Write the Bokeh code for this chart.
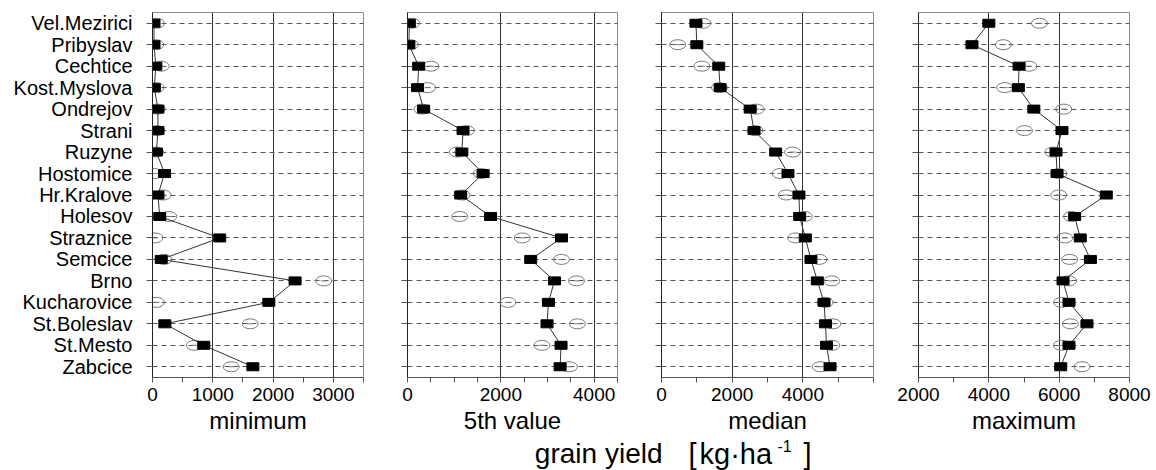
from bokeh.plotting import figure
from bokeh.layouts import row, column
from bokeh.models import Range1d, FactorRange, FixedTicker, Label
from bokeh.embed import file_html
from bokeh.resources import INLINE

sites = ["Vel.Mezirici", "Pribyslav", "Cechtice", "Kost.Myslova", "Ondrejov", "Strani",
         "Ruzyne", "Hostomice", "Hr.Kralove", "Holesov", "Straznice", "Semcice", "Brno",
         "Kucharovice", "St.Boleslav", "St.Mesto", "Zabcice"]

min_sq = [25, 25, 55, 30, 90, 90, 65, 200, 90, 120, 1115, 145, 2365, 1930, 205, 850, 1665]
min_ell = [65, 55, 145, 60, 80, 75, 55, 35, 175, 270, 40, 190, 2840, 65, 1620, 695, 1305]

p5_sq = [40, 30, 240, 215, 345, 1190, 1165, 1620, 1140, 1780, 3300, 2640, 3150, 3020, 2990, 3290, 3270]
p5_ell = [90, 60, 500, 430, 310, 1260, 1065, 1580, 1170, 1120, 2460, 3300, 3620, 2150, 3640, 2880, 3470]

med_sq = [975, 1000, 1620, 1660, 2510, 2620, 3230, 3580, 3890, 3910, 4070, 4230, 4410, 4600, 4640, 4670, 4770]
med_ell = [1170, 460, 1140, 1640, 2680, 2650, 3710, 3360, 3530, 4040, 3800, 4460, 4820, 4630, 4850, 4820, 4490]

max_sq = [4000, 3520, 4860, 4840, 5280, 6080, 5910, 5940, 7340, 6440, 6600, 6890, 6110, 6280, 6790, 6280, 6045]
max_ell = [5440, 4410, 5140, 4450, 6130, 5015, 5820, 5990, 5990, 6350, 6160, 6300, 6270, 6065, 6320, 6065, 6650]

titles = ["minimum", "5th value", "median", "maximum"]
squares = [min_sq, p5_sq, med_sq, max_sq]
ellipses = [min_ell, p5_ell, med_ell, max_ell]
xranges = [(0, 3500), (0, 4500), (0, 6000), (2000, 8000)]
major_ticks = [[0, 1000, 2000, 3000], [0, 2000, 4000], [0, 2000, 4000], [2000, 4000, 6000, 8000]]
minor_ticks = [[500, 1500, 2500, 3500], [500, 1000, 1500, 2500, 3000, 3500, 4500],
               [1000, 3000, 5000, 6000], [3000, 5000, 7000]]
grid_ticks = [[1000, 2000, 3000], [2000, 4000], [2000, 4000], [4000, 6000]]

FONT = "Liberation Sans"
TXT = "#000000"
H = 436
widths = [385, 255, 256, 260]
borders = [(152, 22), (22, 23), (21, 23), (22, 27)]

panels = []
for i in range(4):
    bl, br = borders[i]
    p = figure(width=widths[i], height=H, x_range=Range1d(*xranges[i]),
               y_range=FactorRange(factors=list(reversed(sites)), range_padding=0),
               output_backend="svg", toolbar_location=None,
               min_border_left=bl, min_border_right=br, min_border_top=12, min_border_bottom=58)
    p.background_fill_color = "white"
    p.border_fill_color = "white"
    p.outline_line_color = "#8a8a8a"

    p.xaxis.ticker = FixedTicker(ticks=major_ticks[i], minor_ticks=minor_ticks[i])
    p.xaxis.axis_label = titles[i]
    p.xaxis.axis_label_text_font = FONT
    p.xaxis.axis_label_text_font_size = "24px"
    p.xaxis.axis_label_text_font_style = "normal"
    p.xaxis.axis_label_text_color = TXT
    p.xaxis.axis_label_standoff = 3
    p.xaxis.major_label_text_font = FONT
    p.xaxis.major_label_text_font_size = "19px"
    p.xaxis.major_label_text_color = TXT
    p.xaxis.major_label_standoff = 5
    p.xaxis.major_tick_in = 0
    p.xaxis.major_tick_out = 5
    p.xaxis.minor_tick_in = 0
    p.xaxis.minor_tick_out = 5
    p.xaxis.axis_line_color = "#555555"
    p.xaxis.major_tick_line_color = "#555555"
    p.xaxis.minor_tick_line_color = "#555555"

    p.yaxis.major_tick_in = 0
    p.yaxis.major_tick_out = 6
    p.yaxis.major_tick_line_color = "#555555"
    p.yaxis.axis_line_color = "#222222"
    p.yaxis.major_label_text_font = FONT
    p.yaxis.major_label_text_font_size = "20px"
    p.yaxis.major_label_text_color = TXT
    p.yaxis.major_label_standoff = 14
    if i > 0:
        p.yaxis.major_label_overrides = {s: "" for s in sites}
        p.yaxis.major_label_text_color = None
        p.yaxis.major_label_standoff = 0

    p.xgrid.ticker = FixedTicker(ticks=grid_ticks[i])
    p.xgrid.grid_line_color = "#333333"
    p.xgrid.grid_line_width = 1
    p.ygrid.grid_line_color = "#555555"
    p.ygrid.grid_line_dash = "5 4"
    p.ygrid.grid_line_width = 1

    p.ellipse(x=ellipses[i], y=sites, width=16, height=10, width_units="screen",
              height_units="screen", fill_color=None, line_color="#7a7a7a", line_width=1)
    p.scatter(x=ellipses[i], y=sites, marker="dash", size=6, line_color="#7a7a7a", line_width=1)
    p.line(x=squares[i], y=sites, line_color="#333333", line_width=1)
    p.rect(x=squares[i], y=sites, width=12, height=8, width_units="screen",
           height_units="screen", fill_color="black", line_color="black")
    panels.append(p)

LH = 34
W = sum(widths)
pl = figure(width=W, height=LH, x_range=Range1d(0, W), y_range=Range1d(0, LH),
            output_backend="svg", toolbar_location=None, min_border=0,
            x_axis_location=None, y_axis_location=None)
pl.grid.visible = False
pl.outline_line_color = None
pl.add_layout(Label(x=662, y=17, text="grain yield", text_align="right", text_baseline="alphabetic",
                    text_font=FONT, text_font_size="28px", text_color=TXT))
pl.add_layout(Label(x=688, y=17, text="[", text_align="left", text_baseline="alphabetic",
                    text_font=FONT, text_font_size="29px", text_color=TXT))
pl.add_layout(Label(x=699, y=17, text="kg·ha", text_align="left", text_baseline="alphabetic",
                    text_font=FONT, text_font_size="29px", text_color=TXT))
pl.add_layout(Label(x=777, y=25, text="-1", text_align="left", text_baseline="alphabetic",
                    text_font=FONT, text_font_size="16px", text_color=TXT))
pl.add_layout(Label(x=803, y=17, text="]", text_align="left", text_baseline="alphabetic",
                    text_font=FONT, text_font_size="29px", text_color=TXT))

layout = column(row(*panels, spacing=0), pl, spacing=0)
open("out.html", "w").write(file_html(layout, INLINE))
